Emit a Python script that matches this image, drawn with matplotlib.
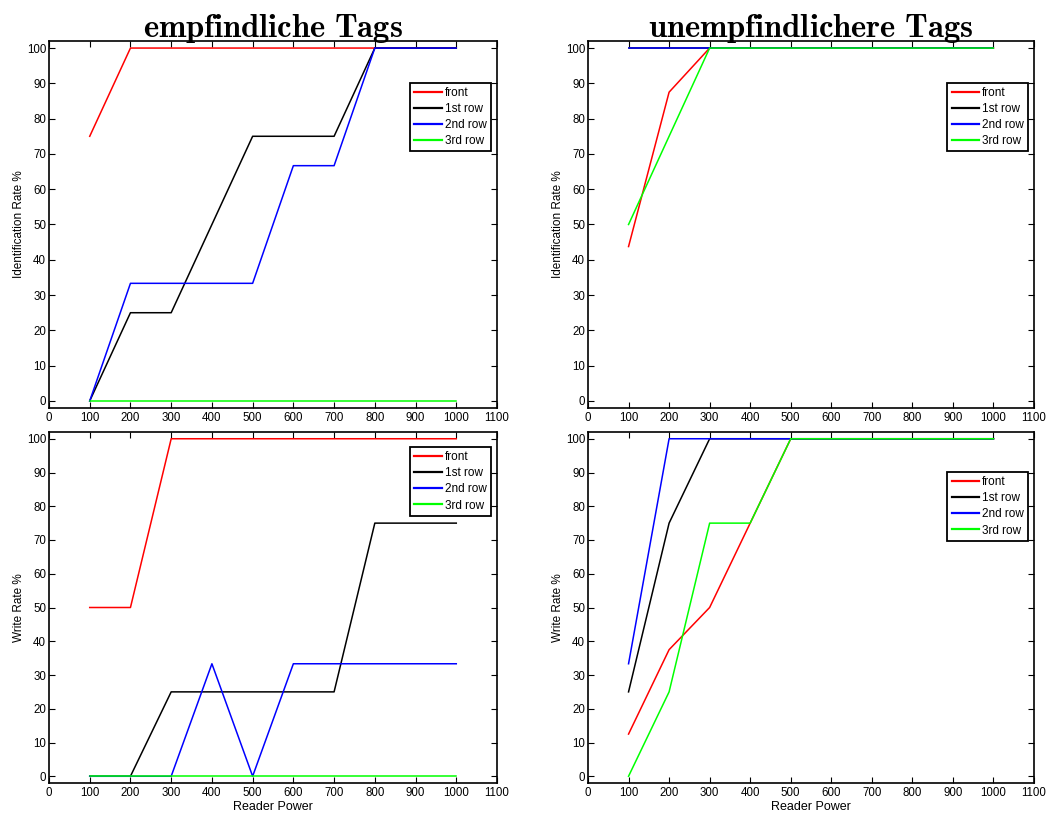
import matplotlib
matplotlib.use("Agg")
import matplotlib.pyplot as plt

x = [100, 200, 300, 400, 500, 600, 700, 800, 900, 1000]
series_names = ["front", "1st row", "2nd row", "3rd row"]
colors = ["#ff0000", "#000000", "#0000ff", "#00ff00"]

# empfindliche Tags - identification
id_sens_front = [75, 100, 100, 100, 100, 100, 100, 100, 100, 100]
id_sens_row1 = [0, 25, 25, 50, 75, 75, 75, 100, 100, 100]
id_sens_row2 = [0, 33.33, 33.33, 33.33, 33.33, 66.67, 66.67, 100, 100, 100]
id_sens_row3 = [0, 0, 0, 0, 0, 0, 0, 0, 0, 0]

# unempfindlichere Tags - identification
id_ins_front = [43.75, 87.5, 100, 100, 100, 100, 100, 100, 100, 100]
id_ins_row1 = [100, 100, 100, 100, 100, 100, 100, 100, 100, 100]
id_ins_row2 = [100, 100, 100, 100, 100, 100, 100, 100, 100, 100]
id_ins_row3 = [50, 75, 100, 100, 100, 100, 100, 100, 100, 100]

# empfindliche Tags - write
wr_sens_front = [50, 50, 100, 100, 100, 100, 100, 100, 100, 100]
wr_sens_row1 = [0, 0, 25, 25, 25, 25, 25, 75, 75, 75]
wr_sens_row2 = [0, 0, 0, 33.33, 0, 33.33, 33.33, 33.33, 33.33, 33.33]
wr_sens_row3 = [0, 0, 0, 0, 0, 0, 0, 0, 0, 0]

# unempfindlichere Tags - write
wr_ins_front = [12.5, 37.5, 50, 75, 100, 100, 100, 100, 100, 100]
wr_ins_row1 = [25, 75, 100, 100, 100, 100, 100, 100, 100, 100]
wr_ins_row2 = [33.33, 100, 100, 100, 100, 100, 100, 100, 100, 100]
wr_ins_row3 = [0, 25, 75, 75, 100, 100, 100, 100, 100, 100]

titles = ["empfindliche Tags", "unempfindlichere Tags"]
xticks = [0, 100, 200, 300, 400, 500, 600, 700, 800, 900, 1000, 1100]
yticks = [0, 10, 20, 30, 40, 50, 60, 70, 80, 90, 100]

plt.rcParams['font.family'] = ['Liberation Sans', 'DejaVu Sans']
plt.rcParams['mathtext.fontset'] = 'cm'

W, H = 1063, 816
fig = plt.figure(figsize=(W / 100, H / 100), dpi=100)

def px_axes(l, t, r, b):
    return fig.add_axes([l / W, 1 - b / H, (r - l) / W, (b - t) / H])

panels = [
    (px_axes(49, 41, 497, 408), [id_sens_front, id_sens_row1, id_sens_row2, id_sens_row3],
     "Identification Rate %", titles[0], None, (0.987, 0.886)),
    (px_axes(588, 41, 1034, 408), [id_ins_front, id_ins_row1, id_ins_row2, id_ins_row3],
     "Identification Rate %", titles[1], None, (0.987, 0.886)),
    (px_axes(49, 432, 497, 783), [wr_sens_front, wr_sens_row1, wr_sens_row2, wr_sens_row3],
     "Write Rate %", None, "Reader Power", (0.987, 0.957)),
    (px_axes(588, 432, 1034, 783), [wr_ins_front, wr_ins_row1, wr_ins_row2, wr_ins_row3],
     "Write Rate %", None, "Reader Power", (0.987, 0.886)),
]

for ax, data, ylab, title, xlab, legpos in panels:
    for vals, name, c in zip(data, series_names, colors):
        ax.plot(x, vals, color=c, lw=1.1, label=name)
    ax.set_xlim(0, 1100)
    ax.set_ylim(-2, 102)
    ax.set_xticks(xticks)
    ax.set_yticks(yticks)
    ax.tick_params(direction='in', top=True, right=True, labelsize=8.3, length=4, width=0.8)
    ax.tick_params(axis='y', pad=2)
    ax.tick_params(axis='x', pad=3)
    for s in ax.spines.values():
        s.set_linewidth(1.2)
    ax.set_ylabel(ylab, fontsize=8.5, labelpad=1)
    if xlab:
        ax.set_xlabel(xlab, fontsize=9, labelpad=1)
    if title:
        ax.set_title(r'$\mathbf{' + title.replace(' ', r'\ ') + '}$', fontsize=23.5, pad=3)
    leg = ax.legend(loc='upper right', bbox_to_anchor=legpos, fontsize=8.5, frameon=True,
                    fancybox=False, edgecolor='black', framealpha=1, borderpad=0.35,
                    labelspacing=0.35, handlelength=2.3, handletextpad=0.3, borderaxespad=0)
    leg.get_frame().set_linewidth(1.3)
    for h in leg.get_lines():
        h.set_linewidth(1.6)

fig.savefig("out.png", dpi=100)
